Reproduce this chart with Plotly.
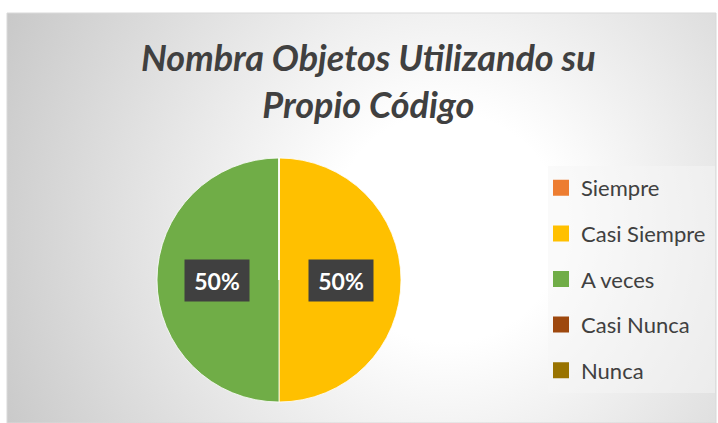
import base64
import math
import plotly.graph_objects as go

# ---- data ----
categories = ["Siempre", "Casi Siempre", "A veces", "Casi Nunca", "Nunca"]
values = [0, 1, 1, 0, 0]
colors = ["#ED7D31", "#FFC000", "#70AD47", "#9E480E", "#997300"]
title_text = "Nombra Objetos Utilizando su<br>Propio Código"

W, H = 718, 423
FONT = "Lato, Noto Sans, sans-serif"

# background radial gradient (Excel style)
svg = """<svg xmlns='http://www.w3.org/2000/svg' width='709' height='410' viewBox='0 0 709 410'>
<defs><radialGradient id='g' gradientUnits='userSpaceOnUse' cx='440' cy='215' r='520'>
<stop offset='0' stop-color='#FFFFFF'/><stop offset='0.22' stop-color='#FFFFFF'/>
<stop offset='1' stop-color='#C4C4C4'/></radialGradient></defs>
<rect width='709' height='410' fill='url(#g)'/>
</svg>"""
src = "data:image/svg+xml;base64," + base64.b64encode(svg.encode()).decode()

fig = go.Figure()

pie_dom_x = [157 / W, 401 / W]
pie_dom_y = [1 - 402 / H, 1 - 158 / H]

fig.add_trace(go.Pie(
    labels=categories, values=values, sort=False, direction="clockwise", rotation=0,
    marker=dict(colors=colors, line=dict(color="rgba(255,255,255,0.8)", width=1)),
    textinfo="none", showlegend=False, hoverinfo="label+percent",
    domain=dict(x=pie_dom_x, y=pie_dom_y),
))

# legend entries as separate traces (for spacing control)
for i, (c, col) in enumerate(zip(categories, colors)):
    fig.add_trace(go.Scatter(
        x=[None], y=[None], mode="markers", name=c, legendgroup=f"g{i}",
        marker=dict(symbol="square", size=14, color=col, line=dict(color=col, width=2)),
    ))

# data labels with dark boxes, placed at slice mid-angles
total = sum(values)
cx = (pie_dom_x[0] + pie_dom_x[1]) / 2
cy = (pie_dom_y[0] + pie_dom_y[1]) / 2
r_px = (pie_dom_x[1] - pie_dom_x[0]) * W / 2
cum = 0
for v in values:
    if v > 0:
        theta = 2 * math.pi * (cum + v / 2) / total
        px = cx + 0.505 * r_px * math.sin(theta) / W
        py = cy + 0.505 * r_px * math.cos(theta) / H
        fig.add_annotation(
            x=px, y=py, xref="paper", yref="paper", showarrow=False,
            xanchor="center", yanchor="middle",
            text=f"<b>{round(100 * v / total)}%</b>",
            font=dict(family=FONT, size=23, color="white"),
            bgcolor="#404040", width=62, height=39, align="center", valign="middle",
        )
    cum += v

# title
fig.add_annotation(
    x=368 / W, y=1 - 33 / H, xref="paper", yref="paper", showarrow=False,
    xanchor="center", yanchor="top", text=f"<b><i>{title_text}</i></b>",
    font=dict(family=FONT, size=36, color="#404040"), align="center",
)

fig.update_layout(
    width=W, height=H,
    margin=dict(l=0, r=0, t=0, b=0),
    paper_bgcolor="white", plot_bgcolor="rgba(0,0,0,0)",
    xaxis=dict(visible=False), yaxis=dict(visible=False),
    images=[dict(source=src, xref="paper", yref="paper", x=7 / W, y=1 - 13 / H,
                 sizex=709 / W, sizey=410 / H, xanchor="left", yanchor="top",
                 sizing="stretch", layer="below")],
    shapes=[
        dict(type="rect", xref="paper", yref="paper", x0=7 / W, x1=716 / W,
             y0=0, y1=1 - 13 / H, line=dict(color="#D9D9D9", width=1), layer="below"),
        dict(type="rect", xref="paper", yref="paper", x0=548 / W, x1=715 / W,
             y0=1 - 393 / H, y1=1 - 166 / H, line=dict(width=0),
             fillcolor="rgba(245,245,245,0.5)", layer="below"),
    ],
    legend=dict(
        x=541 / W, y=1 - 167 / H, xanchor="left", yanchor="top",
        bgcolor="rgba(0,0,0,0)", tracegroupgap=14,
        font=dict(family=FONT, size=22, color="#404040"),
        itemclick=False, itemdoubleclick=False,
    ),
    showlegend=True,
)

fig.write_html("out.html", config={"displayModeBar": False},
               post_script="document.body.style.margin='0';")
